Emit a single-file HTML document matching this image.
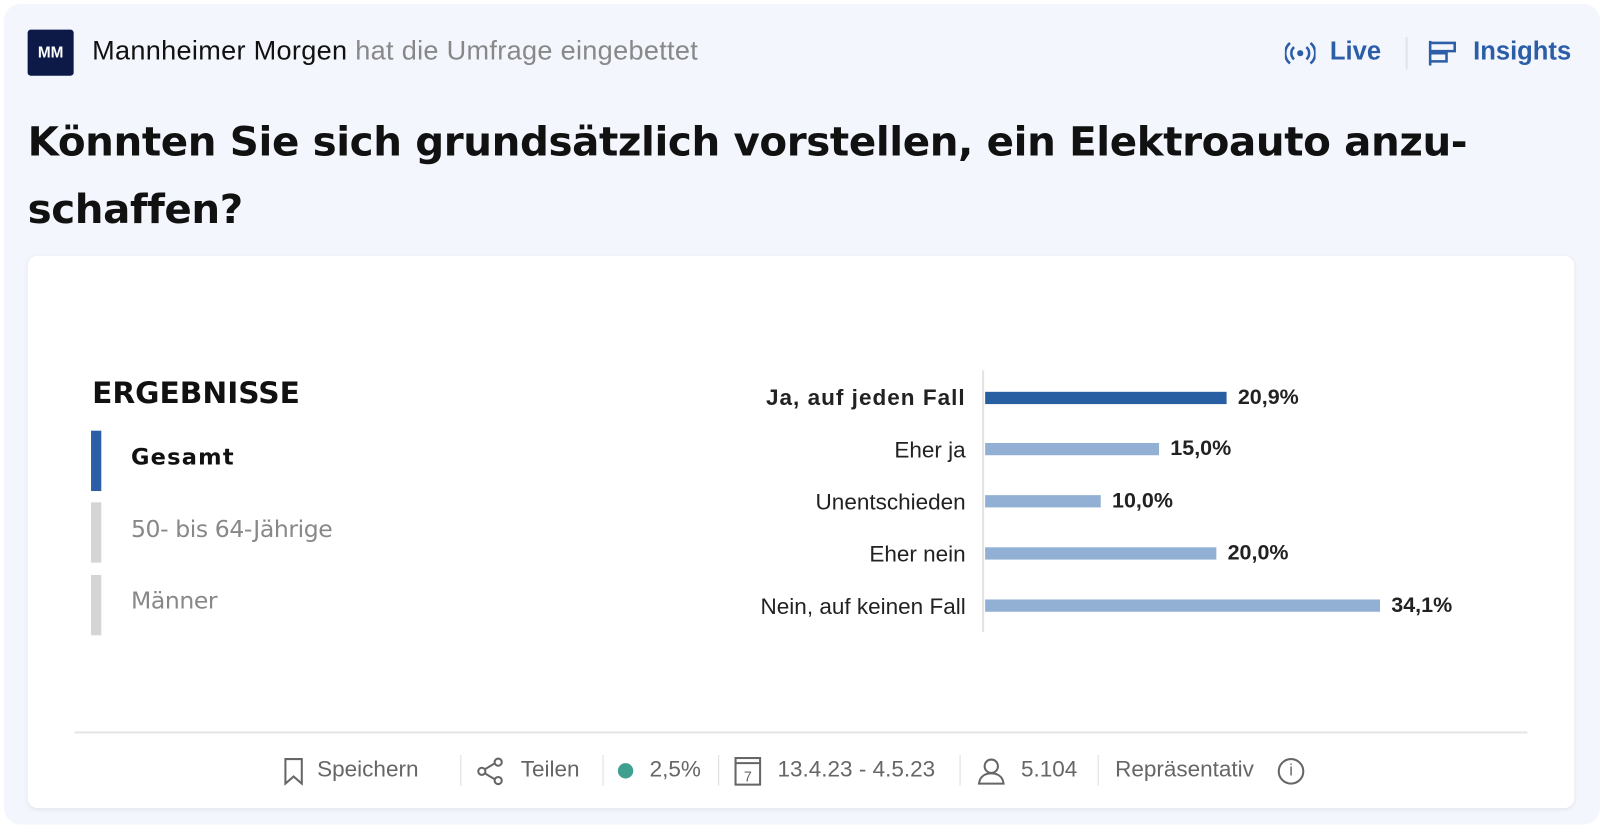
<!DOCTYPE html>
<html><head><meta charset="utf-8"><style>
*{margin:0;padding:0;box-sizing:border-box}
body{width:1604px;height:828px;background:#fff;font-family:"Liberation Sans",sans-serif;overflow:hidden}
#w{position:absolute;left:0;top:0;width:1568px;height:810px;transform:scale(1.023);transform-origin:0 0}
.outer{position:absolute;left:4px;top:4px;width:1560px;height:802px;background:#f4f6fd;border-radius:16px}
.abs{position:absolute;white-space:nowrap}
.card{position:absolute;left:27px;top:250px;width:1512px;height:540px;background:#fff;border-radius:10px;box-shadow:0 1px 4px rgba(0,0,0,.08)}
.lbl{position:absolute;right:624px;font-size:22px;color:#222;text-align:right;white-space:nowrap}
.bar{position:absolute;left:963px;height:12px;background:#92afd4}
.val{position:absolute;font-size:21px;font-weight:bold;color:#222}
.f{position:absolute;top:739px;font-size:22px;color:#666;white-space:nowrap}
.sep{position:absolute;top:738px;width:1px;height:30px;background:#ddd}
</style></head><body><div id="w">
<div class="outer"></div>
<div class="abs" style="left:27px;top:29px;width:45px;height:45px;background:#0d1a47;border-radius:3px;color:#fff;font-size:15px;font-weight:bold;text-align:center;line-height:45px">MM</div>
<div class="abs" style="left:90px;top:34px;font-size:26.5px;color:#111;letter-spacing:0.3px">Mannheimer Morgen <span style="color:#888">hat die Umfrage eingebettet</span></div>
<svg class="abs" style="left:1256px;top:38px" width="30" height="28" viewBox="0 0 30 28"><circle cx="15" cy="14" r="3" fill="#2b5ea7"/><path d="M9 8a8 8 0 0 0 0 12M21 8a8 8 0 0 1 0 12M5 4a13 13 0 0 0 0 20M25 4a13 13 0 0 1 0 20" stroke="#2b5ea7" stroke-width="2.5" fill="none"/></svg>
<div class="abs" style="left:1300px;top:36px;font-size:25px;font-weight:bold;color:#2b5ea7">Live</div>
<div class="abs" style="left:1374px;top:36px;width:2px;height:32px;background:#e1e4ea"></div>
<svg class="abs" style="left:1396px;top:38px" width="30" height="28" viewBox="0 0 30 28"><path d="M2 2v24M2 4h24v8H2M2 14h16v8H2" stroke="#2b5ea7" stroke-width="2.5" fill="none"/></svg>
<div class="abs" style="left:1440px;top:36px;font-size:25px;font-weight:bold;color:#2b5ea7">Insights</div>
<div class="abs" style="left:27px;top:106px;font-family:'DejaVu Sans',sans-serif;font-size:39.5px;font-weight:bold;color:#111;line-height:66px;letter-spacing:-0.4px">Könnten Sie sich grundsätzlich vorstellen, ein Elektroauto anzu-<br>schaffen?</div>
<div class="card"></div>
<div class="abs" style="left:90px;top:367px;font-family:'DejaVu Sans',sans-serif;font-size:29px;font-weight:bold;color:#111">ERGEBNISSE</div>
<div class="abs" style="left:89px;top:421px;width:10px;height:59px;background:#2b5ea7"></div>
<div class="abs" style="left:89px;top:491px;width:10px;height:59px;background:#d5d5d5"></div>
<div class="abs" style="left:89px;top:562px;width:10px;height:59px;background:#d5d5d5"></div>
<div class="abs" style="left:128px;top:435px;font-family:'DejaVu Sans',sans-serif;font-size:22px;font-weight:bold;color:#111;letter-spacing:1.2px">Gesamt</div>
<div class="abs" style="left:128px;top:505px;font-family:'DejaVu Sans',sans-serif;font-size:23px;color:#888;letter-spacing:-0.4px">50- bis 64-Jährige</div>
<div class="abs" style="left:128px;top:575px;font-family:'DejaVu Sans',sans-serif;font-size:23px;color:#888;letter-spacing:-0.4px">Männer</div>
<div class="abs" style="left:960px;top:362px;width:2px;height:256px;background:#e3e3e3"></div>
<div class="lbl" style="top:376px;font-weight:bold;letter-spacing:1px">Ja, auf jeden Fall</div>
<div class="lbl" style="top:427px">Eher ja</div>
<div class="lbl" style="top:478px">Unentschieden</div>
<div class="lbl" style="top:529px">Eher nein</div>
<div class="lbl" style="top:580px">Nein, auf keinen Fall</div>
<div class="bar" style="top:383px;width:236px;background:#285fa3"></div>
<div class="bar" style="top:433px;width:170px"></div>
<div class="bar" style="top:484px;width:113px"></div>
<div class="bar" style="top:535px;width:226px"></div>
<div class="bar" style="top:586px;width:386px"></div>
<div class="val" style="left:1210px;top:377px">20,9%</div>
<div class="val" style="left:1144px;top:427px">15,0%</div>
<div class="val" style="left:1087px;top:478px">10,0%</div>
<div class="val" style="left:1200px;top:529px">20,0%</div>
<div class="val" style="left:1360px;top:580px">34,1%</div>
<div class="abs" style="left:73px;top:715px;width:1420px;height:2px;background:#e5e5e5"></div>
<svg class="abs" style="left:276px;top:740px" width="22" height="28" viewBox="0 0 22 28"><path d="M3 2h16v24l-8-7-8 7z" stroke="#666" stroke-width="2" fill="none"/></svg>
<div class="f" style="left:310px">Speichern</div>
<div class="sep" style="left:450px"></div>
<svg class="abs" style="left:465px;top:740px" width="28" height="28" viewBox="0 0 28 28"><circle cx="6" cy="14" r="3.5" stroke="#666" stroke-width="2" fill="none"/><circle cx="22" cy="5" r="3.5" stroke="#666" stroke-width="2" fill="none"/><circle cx="22" cy="23" r="3.5" stroke="#666" stroke-width="2" fill="none"/><path d="M9 12l10-6M9 16l10 6" stroke="#666" stroke-width="2"/></svg>
<div class="f" style="left:509px">Teilen</div>
<div class="sep" style="left:589px"></div>
<div class="abs" style="left:604px;top:746px;width:15px;height:15px;border-radius:50%;background:#3fa08f"></div>
<div class="f" style="left:635px">2,5%</div>
<div class="sep" style="left:702px"></div>
<svg class="abs" style="left:717px;top:739px" width="28" height="30" viewBox="0 0 28 30"><rect x="2" y="2" width="24" height="26" stroke="#666" stroke-width="2" fill="none"/><path d="M2 7h24" stroke="#666" stroke-width="2"/><text x="14" y="25" font-size="14" text-anchor="middle" fill="#666" font-family="Liberation Sans">7</text></svg>
<div class="f" style="left:760px">13.4.23 - 4.5.23</div>
<div class="sep" style="left:938px"></div>
<svg class="abs" style="left:955px;top:740px" width="28" height="28" viewBox="0 0 28 28"><circle cx="14" cy="9" r="6.5" stroke="#666" stroke-width="2" fill="none"/><path d="M2 26c1-8 7-10 12-10s11 2 12 10z" stroke="#666" stroke-width="2" fill="none"/></svg>
<div class="f" style="left:998px">5.104</div>
<div class="sep" style="left:1073px"></div>
<div class="f" style="left:1090px">Repräsentativ</div>
<div class="abs" style="left:1249px;top:741px;width:26px;height:26px;border:2px solid #666;border-radius:50%;text-align:center;font-size:16px;line-height:22px;color:#666">i</div>
</div></body></html>
